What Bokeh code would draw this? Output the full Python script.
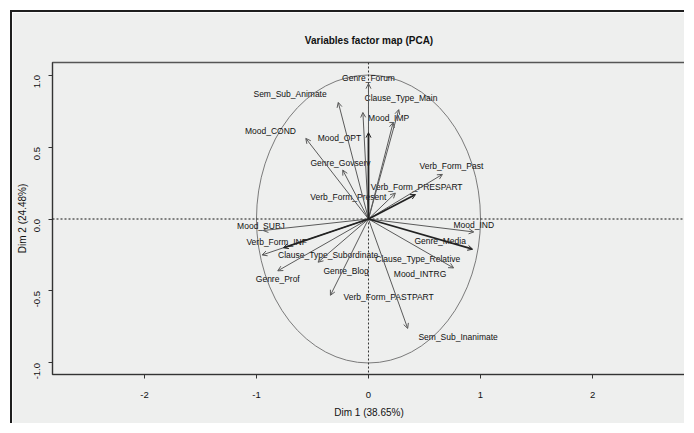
import math
from bokeh.plotting import figure
from bokeh.models import (Range1d, FixedTicker, PrintfTickFormatter, Span, Arrow,
                          OpenHead, ColumnDataSource)
from bokeh.core.properties import value
from bokeh.embed import file_html
from bokeh.resources import INLINE

# ---------------- data ----------------
title_text = "Variables factor map (PCA)"
x_label = "Dim 1 (38.65%)"
y_label = "Dim 2 (24.48%)"
x_ticks = [-2, -1, 0, 1, 2]
y_ticks = [-1.0, -0.5, 0.0, 0.5, 1.0]

variables = [
    "Genre_Forum", "Sem_Sub_Animate", "Clause_Type_Main", "Mood_IMP", "Mood_OPT",
    "Mood_COND", "Genre_Govserv", "Verb_Form_Present", "Verb_Form_Past",
    "Verb_Form_PRESPART", "Mood_IND", "Genre_Media", "Clause_Type_Relative",
    "Mood_INTRG", "Verb_Form_PASTPART", "Sem_Sub_Inanimate", "Mood_SUBJ",
    "Verb_Form_INF", "Clause_Type_Subordinate", "Genre_Blog", "Genre_Prof",
]
dim1 = [0.00, -0.27, 0.27, 0.22, -0.05,
        -0.56, -0.23, 0.00, 0.66,
        0.42, 0.94, 0.93, 0.76,
        0.24, -0.34, 0.35, -0.94,
        -0.95, -0.76, -0.45, -0.81]
dim2 = [0.94, 0.81, 0.76, 0.67, 0.74,
        0.56, 0.34, 0.60, 0.31,
        0.17, -0.09, -0.21, -0.34,
        0.18, -0.53, -0.76, -0.08,
        -0.25, -0.20, -0.30, -0.36]
label_x = [0.00, -0.70, 0.29, 0.18, -0.26,
           -0.875, -0.25, -0.18, 0.74,
           0.43, 0.94, 0.64, 0.44,
           0.46, 0.18, 0.80, -0.96,
           -0.82, -0.36, -0.20, -0.81]
label_y = [0.98, 0.87, 0.84, 0.70, 0.56,
           0.61, 0.39, 0.15, 0.365,
           0.22, -0.04, -0.155, -0.275,
           -0.385, -0.545, -0.82, -0.05,
           -0.16, -0.25, -0.36, -0.42]

# ---------------- styles ----------------
BG = "#eeefee"
FONT = "Liberation Sans"
emphasised = {"Verb_Form_Present", "Verb_Form_PRESPART", "Genre_Media",
              "Clause_Type_Subordinate"}

p = figure(width=674, height=413, output_backend="svg", toolbar_location=None,
           x_range=Range1d(-2.821, 2.830), y_range=Range1d(-1.080, 1.087),
           min_border_left=40, min_border_right=1, min_border_top=50,
           min_border_bottom=51,
           background_fill_color=BG, border_fill_color=BG,
           styles={"margin-left": "10px", "margin-top": "10px",
                   "border-left": "2px solid #1e1e1e",
                   "border-top": "2px solid #1e1e1e"})
p.grid.visible = False
p.outline_line_color = "#555555"
p.outline_line_width = 1.5

p.title.text = title_text
p.title.align = "center"
p.title.text_font = FONT
p.title.text_font_size = "10px"
p.title.text_font_style = "bold"
p.title.text_color = "#111111"
p.title.standoff = 33

for ax in (p.xaxis[0], p.yaxis[0]):
    ax.axis_line_color = "#333333"
    ax.major_tick_line_color = "#333333"
    ax.major_tick_out = 4
    ax.major_tick_in = 0
    ax.minor_tick_line_color = None
    ax.major_label_text_font = FONT
    ax.major_label_text_font_size = "9.5px"
    ax.major_label_text_color = "#111111"
    ax.axis_label_text_font = FONT
    ax.axis_label_text_font_size = "10px"
    ax.axis_label_text_font_style = "normal"
    ax.axis_label_text_color = "#111111"

p.xaxis.ticker = FixedTicker(ticks=x_ticks)
p.xaxis.formatter = PrintfTickFormatter(format="%d")
p.xaxis.major_label_standoff = 13
p.xaxis.axis_label = x_label
p.xaxis.axis_label_standoff = 6

p.yaxis.ticker = FixedTicker(ticks=y_ticks)
p.yaxis.formatter = PrintfTickFormatter(format="%.1f")
p.yaxis.major_label_orientation = math.pi / 2
p.yaxis.major_label_standoff = 11
p.yaxis.axis_label = y_label
p.yaxis.axis_label_standoff = 1

# reference lines through the origin
p.add_layout(Span(location=0, dimension="width", line_color="#111111",
                  line_dash="2 2", line_width=1))
p.add_layout(Span(location=0, dimension="height", line_color="#333333",
                  line_dash="2 2", line_width=1))

# correlation circle
p.ellipse(x=[0], y=[0], width=[2], height=[2], fill_color=None,
          line_color="#7a7a7a", line_width=1)

# arrows
def arrow_source(select):
    idx = [i for i, n in enumerate(variables) if select(n)]
    return ColumnDataSource(dict(
        x0=[0.0] * len(idx), y0=[0.0] * len(idx),
        x1=[dim1[i] for i in idx], y1=[dim2[i] for i in idx]))

for sel, col, lw in ((lambda n: n not in emphasised, "#5a5a5a", 1.0),
                     (lambda n: n in emphasised, "#222222", 1.8)):
    p.add_layout(Arrow(source=arrow_source(sel), x_start="x0", y_start="y0",
                       x_end="x1", y_end="y1", line_color=col, line_width=lw,
                       end=OpenHead(size=5, line_color=col, line_width=1)))

# variable labels
lab_src = ColumnDataSource(dict(x=label_x, y=label_y, t=variables))
p.text(x="x", y="y", text="t", source=lab_src, text_align="center",
       text_baseline="middle", text_font=value(FONT), text_font_size="8.5px",
       text_color="#111111")

html = file_html(p, INLINE)
html = html.replace("<body", '<body style="background-color:%s"' % BG, 1)
open("out.html", "w").write(html)
